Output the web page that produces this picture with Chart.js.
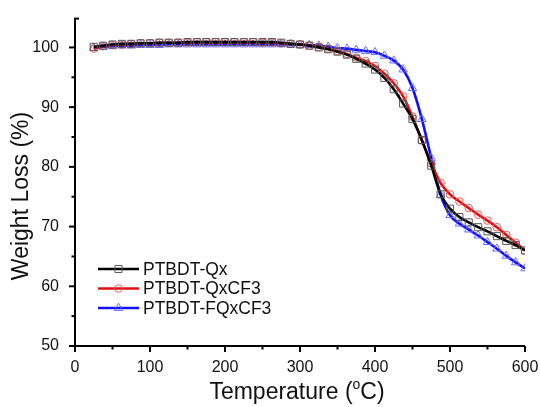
<!DOCTYPE html>
<html>

<head>
  <title>TGA curves</title>
  <script src="https://cdn.jsdelivr.net/npm/chart.js"></script>
  <style>
    body { margin: 0; background: #fff; }
    #wrap { position: relative; width: 540px; height: 407px; }
  </style>
</head>

<body>
  <div id="wrap">
    <canvas id="tga" width="540" height="407"></canvas>
  </div>

  <script>
    // temperature (°C) where the markers sit
    const temps = [25, 37.5, 50, 62.5, 75, 87.5, 100, 112.5, 125, 137.5, 150, 162.5, 175, 187.5, 200, 212.5,
      225, 237.5, 250, 262.5, 275, 287.5, 300, 312.5, 325, 337.5, 350, 362.5, 375, 387.5, 400, 412.5,
      425, 437.5, 450, 462.5, 475, 487.5, 500, 512.5, 525, 537.5, 550, 562.5, 575, 587.5, 600];

    // weight (%)
    const qx = [100.1, 100.3, 100.5, 100.6, 100.6, 100.7, 100.7, 100.8, 100.8, 100.8, 100.9, 100.9, 100.9, 100.9, 100.9, 100.9,
      100.9, 100.9, 100.9, 100.9, 100.8, 100.6, 100.5, 100.3, 100.0, 99.7, 99.3, 98.8, 98.1, 97.3, 96.3, 94.9,
      93.0, 90.6, 88.0, 84.5, 80.2, 75.4, 73.0, 71.6, 70.7, 69.9, 69.2, 68.4, 67.6, 66.9, 66.0];
    const qxcf3 = [99.8, 100.2, 100.4, 100.5, 100.6, 100.7, 100.7, 100.8, 100.8, 100.8, 100.8, 100.9, 100.9, 100.9, 100.9, 100.9,
      100.9, 100.9, 100.8, 100.8, 100.7, 100.6, 100.5, 100.3, 100.1, 99.8, 99.4, 98.9, 98.3, 97.7, 96.9, 95.6,
      94.0, 91.8, 88.4, 84.4, 80.6, 77.3, 75.4, 74.2, 73.1, 72.0, 71.0, 69.9, 68.6, 67.3, 66.0];
    const fqxcf3 = [99.9, 100.1, 100.2, 100.3, 100.3, 100.4, 100.4, 100.4, 100.5, 100.5, 100.5, 100.5, 100.5, 100.5, 100.5, 100.5,
      100.5, 100.5, 100.5, 100.5, 100.5, 100.5, 100.4, 100.4, 100.3, 100.1, 99.9, 99.8, 99.6, 99.4, 99.2, 98.6,
      97.8, 96.3, 93.2, 88.0, 81.5, 75.3, 71.9, 70.5, 69.5, 68.5, 67.4, 66.3, 65.1, 64.0, 63.0];

    const seriesNames = ['PTBDT-Qx', 'PTBDT-QxCF3', 'PTBDT-FQxCF3'];
    const xTicks = [0, 100, 200, 300, 400, 500, 600];
    const yTicks = [50, 60, 70, 80, 90, 100];

    const FONT = '"Liberation Sans", Arial, sans-serif';
    const lineColors = ['#000000', '#e01010', '#1010ff'];
    const markColors = ['#5a5a5a', '#e85a5a', '#6a6aff'];
    const markStyles = ['rect', 'circle', 'triangle'];
    const markRadius = [5, 3.8, 4.8];

    function pts(ys) {
      return temps.map((t, i) => ({ x: t, y: ys[i] }));
    }

    function makeSet(i, ys) {
      return {
        label: seriesNames[i],
        data: pts(ys),
        borderColor: lineColors[i],
        borderWidth: 2.6,
        cubicInterpolationMode: 'monotone',
        pointStyle: markStyles[i],
        pointRadius: markRadius[i],
        pointBorderWidth: 1,
        pointBorderColor: markColors[i],
        pointBackgroundColor: 'rgba(0,0,0,0)'
      };
    }

    // axes, tick marks, axis titles and legend (drawn by hand)
    const decor = {
      id: 'decor',
      afterDraw(chart) {
        const c = chart.ctx;
        const xs = chart.scales.x, ys = chart.scales.y;
        const ax = xs.left, ay = ys.bottom;
        c.save();
        c.strokeStyle = '#000';
        c.lineWidth = 2;
        c.beginPath();
        c.moveTo(ax, ys.top + 1);
        c.lineTo(ax, ay);
        c.lineTo(xs.right, ay);
        c.stroke();
        // top cap of y axis
        c.beginPath();
        c.moveTo(ax - 1, ys.top + 1);
        c.lineTo(ax + 4, ys.top + 1);
        c.stroke();
        // x ticks
        for (let v = 0; v <= 600; v += 50) {
          const px = xs.getPixelForValue(v);
          const len = v % 100 === 0 ? 6 : 3.5;
          c.beginPath();
          c.moveTo(px, ay);
          c.lineTo(px, ay + len);
          c.stroke();
        }
        // y ticks
        for (let v = 50; v <= 100; v += 5) {
          const py = ys.getPixelForValue(v);
          const len = v % 10 === 0 ? 6 : 3.5;
          c.beginPath();
          c.moveTo(ax, py);
          c.lineTo(ax - len, py);
          c.stroke();
        }

        // axis titles
        c.fillStyle = '#111';
        c.font = '23px ' + FONT;
        c.textBaseline = 'middle';
        c.save();
        c.translate(22, 196);
        c.rotate(-Math.PI / 2);
        c.textAlign = 'center';
        c.fillText('Weight Loss (%)', 0, 0);
        c.restore();

        const a = 'Temperature (', b = 'o', d = 'C)';
        const small = '14px ' + FONT;
        const wa = c.measureText(a).width, wd = c.measureText(d).width;
        c.font = small;
        const wb = c.measureText(b).width;
        let x0 = 297 - (wa + wb + wd) / 2;
        c.textAlign = 'left';
        c.font = '23px ' + FONT;
        c.fillText(a, x0, 393);
        c.font = small;
        c.fillText(b, x0 + wa, 385);
        c.font = '23px ' + FONT;
        c.fillText(d, x0 + wa + wb, 393);

        // legend
        const rows = [269, 288.5, 308];
        c.font = '17.5px ' + FONT;
        rows.forEach((ry, i) => {
          c.strokeStyle = lineColors[i];
          c.lineWidth = 2.6;
          c.beginPath();
          c.moveTo(98, ry);
          c.lineTo(139, ry);
          c.stroke();
          c.lineWidth = 1;
          c.strokeStyle = markColors[i];
          c.fillStyle = 'rgba(0,0,0,0)';
          Chart.helpers.drawPoint(c, {
            pointStyle: markStyles[i], radius: markRadius[i], borderWidth: 1, rotation: 0
          }, 118.5, ry);
          c.fillStyle = '#111';
          c.fillText(seriesNames[i], 143, ry + 1);
        });
        c.restore();
      }
    };

    const ctx = document.getElementById('tga').getContext('2d');
    const chart = new Chart(ctx, {
      type: 'line',
      data: {
        datasets: [makeSet(0, qx), makeSet(1, qxcf3), makeSet(2, fqxcf3)]
      },
      options: {
        responsive: false,
        animation: false,
        layout: { padding: { top: 15, right: 0, left: 0, bottom: 0 } },
        plugins: {
          legend: { display: false },
          tooltip: { enabled: false }
        },
        scales: {
          x: {
            type: 'linear',
            min: 0,
            max: 600,
            afterBuildTicks: s => { s.ticks = xTicks.map(v => ({ value: v })); },
            afterFit: s => { s.height = 61; s.paddingRight = 15; },
            grid: { display: false },
            border: { display: false },
            ticks: { padding: 4, color: '#111', font: { family: FONT, size: 16 }, maxRotation: 0 }
          },
          y: {
            min: 50,
            max: 105,
            afterBuildTicks: s => { s.ticks = yTicks.map(v => ({ value: v })); },
            afterFit: s => { s.width = 75; },
            grid: { display: false },
            border: { display: false },
            ticks: { padding: 8, color: '#111', font: { family: FONT, size: 16 } }
          }
        }
      },
      plugins: [decor]
    });
  </script>
</body>

</html>
